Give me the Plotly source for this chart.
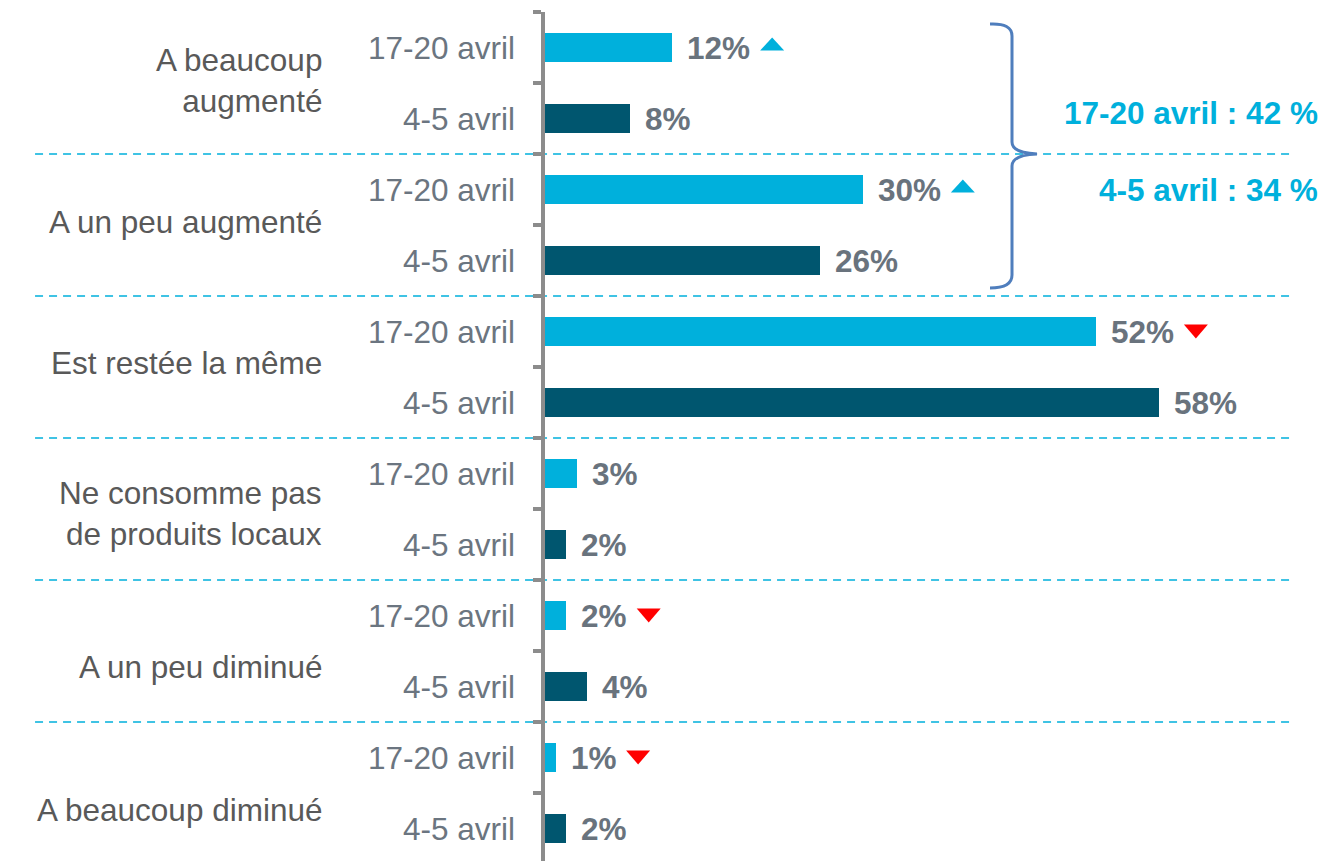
import plotly.graph_objects as go

# ---------------- data ----------------
categories = ["A beaucoup<br>augmenté", "A un peu augmenté", "Est restée la même",
              "Ne consomme pas<br>de produits locaux", "A un peu diminué", "A beaucoup diminué"]
periods = ["17-20 avril", "4-5 avril"]
values_17_20 = [12, 30, 52, 3, 2, 1]
values_4_5 = [8, 26, 58, 2, 4, 2]
trend_17_20 = ["up", "up", "down", None, "down", "down"]

# ---------------- style ----------------
FONT = "Liberation Sans, Arial, sans-serif"
FS = 31.5
C_LIGHT = "#00B0DC"
C_DARK = "#00566F"
C_VAL = "#69737D"
C_SUB = "#6B7580"
C_CAT = "#595959"
C_AXIS = "#8C8C8C"
C_BRACE = "#4F7EBD"
ROW_PX = 71
label_yshift = [-3, -3, -4, 4, 16, 17]

n = len(categories)
rows_a = [2 * i for i in range(n)]
rows_b = [2 * i + 1 for i in range(n)]

fig = go.Figure()
fig.add_trace(go.Bar(x=values_17_20, y=rows_a, orientation="h", width=0.41,
                     marker=dict(color=C_LIGHT, line=dict(width=0)), name=periods[0],
                     hoverinfo="skip"))
fig.add_trace(go.Bar(x=values_4_5, y=rows_b, orientation="h", width=0.41,
                     marker=dict(color=C_DARK, line=dict(width=0)), name=periods[1],
                     hoverinfo="skip"))

annotations = []
shapes = []

def label_width(v):
    return FS * (0.556 * len(str(v)) + 0.889)

for i in range(n):
    # sub labels
    for r, p in zip((rows_a[i], rows_b[i]), periods):
        annotations.append(dict(x=0, xref="paper", y=r, yref="y", text=p,
                                xanchor="right", yanchor="middle", xshift=-28,
                                showarrow=False, font=dict(family=FONT, size=FS, color=C_SUB)))
    # category label
    annotations.append(dict(x=0, xref="paper", y=rows_a[i] + 0.5, yref="y", text=categories[i],
                            xanchor="right", yanchor="middle", align="right", xshift=-221,
                            yshift=-label_yshift[i],
                            showarrow=False, font=dict(family=FONT, size=FS, color=C_CAT)))
    # value labels
    for r, v in ((rows_a[i], values_17_20[i]), (rows_b[i], values_4_5[i])):
        annotations.append(dict(x=v, xref="x", y=r, yref="y", text=f"<b>{v}%</b>",
                                xanchor="left", yanchor="middle", xshift=13,
                                showarrow=False, font=dict(family=FONT, size=FS, color=C_VAL)))
    # trend triangles
    t = trend_17_20[i]
    if t:
        cx = 14 + label_width(values_17_20[i]) + 11 + 12
        if t == "up":
            path = f"M {cx-12},-3 L {cx+12},-3 L {cx},10 Z"
            col = C_LIGHT
        else:
            path = f"M {cx-12},7 L {cx+12},7 L {cx},-7 Z"
            col = "#FF0000"
        shapes.append(dict(type="path", xref="x", yref="y", xsizemode="pixel", ysizemode="pixel",
                           xanchor=values_17_20[i], yanchor=rows_a[i], path=path,
                           fillcolor=col, line=dict(width=0)))

# dashed separators between groups
for i in range(1, n):
    y = 2 * i - 0.5
    shapes.append(dict(type="line", xref="paper", yref="y", x0=-0.664, x1=0.970, y0=y, y1=y,
                       line=dict(color=C_LIGHT, width=1.5, dash="8px,6px"), layer="below"))

# brace grouping the two "augmenté" categories
brace = ("M 445,130 Q 467,131 467,118 L 467,12 Q 467,1 492,0 Q 467,-1 467,-12 "
         "L 467,-121 Q 467,-134 445,-134")
shapes.append(dict(type="path", xref="paper", yref="y", xsizemode="pixel", ysizemode="pixel",
                   xanchor=0, yanchor=1.5, path=brace, line=dict(color=C_BRACE, width=3)))

tot_a = values_17_20[0] + values_17_20[1]
tot_b = values_4_5[0] + values_4_5[1]
annotations.append(dict(x=1.0085, xref="paper", y=1, yref="y", yshift=6,
                        text=f"<b>{periods[0]} : {tot_a} %</b>", xanchor="right", yanchor="middle",
                        showarrow=False, font=dict(family=FONT, size=FS, color=C_LIGHT)))
annotations.append(dict(x=1.0085, xref="paper", y=2, yref="y", yshift=0,
                        text=f"<b>{periods[1]} : {tot_b} %</b>", xanchor="right", yanchor="middle",
                        showarrow=False, font=dict(family=FONT, size=FS, color=C_LIGHT)))

H = 861
top = 12
plot_h = H - top
span = plot_h / ROW_PX

fig.update_layout(
    width=1322, height=H,
    margin=dict(l=545, r=9, t=top, b=0, pad=0),
    paper_bgcolor="white", plot_bgcolor="white",
    showlegend=False,
    bargap=0,
    xaxis=dict(range=[0, 72.5], showgrid=False, zeroline=False, showline=False,
               showticklabels=False, ticks="", fixedrange=True),
    yaxis=dict(range=[-0.5 + span, -0.5], showgrid=False, zeroline=False,
               showline=True, linecolor=C_AXIS, linewidth=4,
               tickmode="array", tickvals=[k - 0.5 for k in range(2 * n + 1)],
               ticks="outside", ticklen=8, tickwidth=4, tickcolor=C_AXIS,
               showticklabels=False, fixedrange=True),
    annotations=annotations,
    shapes=shapes,
)

fig.write_html("out.html", config={"displayModeBar": False},
               post_script="document.body.style.margin='0';document.body.style.overflow='hidden';")
